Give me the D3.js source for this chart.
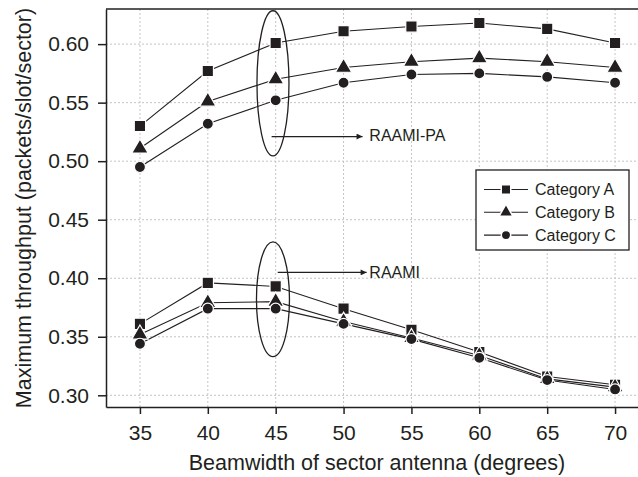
<!DOCTYPE html>
<html>
  <head>
    <title>Maximum throughput vs beamwidth</title>
    <style>
      body { margin: 0; background: #fff; }
      text { font-family: "Liberation Sans", Arial, sans-serif; fill: #231f20; }
      .grid line { stroke: #c4c4c4; stroke-width: 1px; stroke-dasharray: 2,2; }
      .axis path, .axis line { stroke: #231f20; stroke-width: 1.5px; }
      .series { fill: none; stroke: #231f20; stroke-width: 1.1px; }
    </style>
    <script src="https://d3js.org/d3.v7.min.js"></script>
  </head>
  <body>
    <div id="chart"></div>
    <script type="text/javascript">
      // beamwidth of sector antenna (degrees)
      var beamwidths = [35, 40, 45, 50, 55, 60, 65, 70];

      // RAAMI-PA (upper group)
      var paA = [0.530, 0.577, 0.601, 0.611, 0.615, 0.618, 0.613, 0.601];
      var paB = [0.511, 0.551, 0.570, 0.580, 0.585, 0.588, 0.585, 0.580];
      var paC = [0.495, 0.532, 0.552, 0.567, 0.574, 0.575, 0.572, 0.567];

      // RAAMI (lower group)
      var rA = [0.361, 0.396, 0.393, 0.374, 0.356, 0.337, 0.316, 0.309];
      var rB = [0.352, 0.379, 0.380, 0.363, 0.349, 0.334, 0.314, 0.307];
      var rC = [0.344, 0.374, 0.374, 0.361, 0.348, 0.332, 0.313, 0.305];

      var xTicks = [35, 40, 45, 50, 55, 60, 65, 70];
      var yTicks = [0.30, 0.35, 0.40, 0.45, 0.50, 0.55, 0.60];
      var categories = ["Category A", "Category B", "Category C"];
      var shapes = [d3.symbolSquare, d3.symbolTriangle, d3.symbolCircle];

      var width = 638, height = 477;
      var mLeft = 106, mTop = 9, mBottom = 407, mRight = 649;

      var svg = d3.select("#chart").append("svg")
        .attr("width", width)
        .attr("height", height);

      var x = d3.scaleLinear().domain([32.5, 72.5]).range([mLeft, mRight]);
      var y = d3.scaleLinear().domain([0.29, 0.63]).range([mBottom, mTop]);

      // grid
      var grid = svg.append("g").attr("class", "grid");
      grid.selectAll(".gx").data(xTicks).enter().append("line")
        .attr("x1", function(d){return x(d);}).attr("x2", function(d){return x(d);})
        .attr("y1", mTop).attr("y2", mBottom);
      grid.selectAll(".gy").data(yTicks).enter().append("line")
        .attr("x1", mLeft).attr("x2", mRight)
        .attr("y1", function(d){return y(d);}).attr("y2", function(d){return y(d);});

      // axes
      svg.append("g").attr("class", "axis")
        .attr("transform", "translate(0," + mBottom + ")")
        .call(d3.axisBottom(x).tickValues(xTicks).tickSize(7).tickPadding(11).tickSizeOuter(0));
      svg.append("g").attr("class", "axis")
        .attr("transform", "translate(" + mLeft + ",0)")
        .call(d3.axisLeft(y).tickValues(yTicks).tickFormat(d3.format(".2f")).tickSize(8).tickPadding(9).tickSizeOuter(0));
      svg.selectAll(".axis text").style("font-size", "21px").attr("fill", "#231f20");

      // top border
      svg.append("line")
        .attr("x1", mLeft).attr("x2", mRight).attr("y1", mTop).attr("y2", mTop)
        .style("stroke", "#231f20").style("stroke-width", "1.5px");

      svg.append("text")
        .attr("x", 377).attr("y", 470)
        .attr("text-anchor", "middle").style("font-size", "21.5px")
        .text("Beamwidth of sector antenna (degrees)");
      svg.append("text")
        .attr("transform", "translate(31," + (mTop + mBottom) / 2 + ") rotate(-90)")
        .attr("text-anchor", "middle").style("font-size", "21.5px")
        .text("Maximum throughput (packets/slot/sector)");

      // series
      var groups = [paA, paB, paC, rA, rB, rC];
      var line = d3.line()
        .x(function(d, i){return x(beamwidths[i]);})
        .y(function(d){return y(d);});
      var sizes = [128, 115, 96];

      groups.forEach(function(vals) {
        svg.append("path").attr("class", "series").attr("d", line(vals));
      });
      groups.forEach(function(vals, gi) {
        var k = gi % 3;
        svg.selectAll(".m" + gi).data(vals).enter().append("path")
          .attr("transform", function(d, i){return "translate(" + x(beamwidths[i]) + "," + y(d) + ")";})
          .attr("d", d3.symbol().type(shapes[k]).size(sizes[k]))
          .attr("fill", "#231f20")
          .attr("stroke", "#fff").attr("stroke-width", 1.2);
      });

      // annotations
      var ink = "#231f20";
      svg.append("defs").append("marker")
        .attr("id", "arr").attr("viewBox", "0 0 10 10")
        .attr("refX", 10).attr("refY", 5)
        .attr("markerWidth", 12).attr("markerHeight", 6)
        .attr("markerUnits", "userSpaceOnUse")
        .attr("orient", "auto")
        .append("path").attr("d", "M0,0L10,5L0,10Z").attr("fill", ink);

      var ellipses = [
        {cx: 44.8, top: 0.6285, bot: 0.5045, rx: 16},
        {cx: 44.8, top: 0.431, bot: 0.333, rx: 16.5}
      ];
      svg.selectAll(".ell").data(ellipses).enter().append("ellipse")
        .attr("cx", function(d){return x(d.cx);})
        .attr("cy", function(d){return (y(d.top) + y(d.bot)) / 2;})
        .attr("rx", function(d){return d.rx;})
        .attr("ry", function(d){return (y(d.bot) - y(d.top)) / 2;})
        .attr("fill", "none").attr("stroke", ink).attr("stroke-width", 1.3);

      var arrows = [
        {x1: 44.7, x2: 51.4, v: 0.521, label: "RAAMI-PA", tv: 0.5175},
        {x1: 45.15, x2: 51.7, v: 0.405, label: "RAAMI", tv: 0.400}
      ];
      svg.selectAll(".arw").data(arrows).enter().append("line")
        .attr("x1", function(d){return x(d.x1);}).attr("x2", function(d){return x(d.x2);})
        .attr("y1", function(d){return y(d.v);}).attr("y2", function(d){return y(d.v);})
        .attr("stroke", ink).attr("stroke-width", 1.3)
        .attr("marker-end", "url(#arr)");
      svg.selectAll(".lab").data(arrows).enter().append("text")
        .attr("x", x(51.9)).attr("y", function(d){return y(d.tv);})
        .style("font-size", "16px")
        .text(function(d){return d.label;});

      // legend
      var lg = svg.append("g").attr("transform", "translate(476,170)");
      lg.append("rect").attr("width", 153).attr("height", 80)
        .attr("fill", "#fff").attr("stroke", ink).attr("stroke-width", 1.3);
      var item = lg.selectAll(".li").data(categories).enter().append("g")
        .attr("transform", function(d, i){return "translate(0," + (19.5 + i * 22.8) + ")";});
      item.append("line").attr("x1", 8).attr("x2", 52)
        .attr("stroke", ink).attr("stroke-width", 1.1);
      item.append("path")
        .attr("transform", "translate(30,0)")
        .attr("d", function(d, i){return d3.symbol().type(shapes[i]).size([90, 85, 70][i])();})
        .attr("fill", ink).attr("stroke", "#fff").attr("stroke-width", 1.5);
      item.append("text").attr("x", 59).attr("dy", "0.35em")
        .style("font-size", "16px")
        .text(function(d){return d;});
    </script>
  </body>
</html>
